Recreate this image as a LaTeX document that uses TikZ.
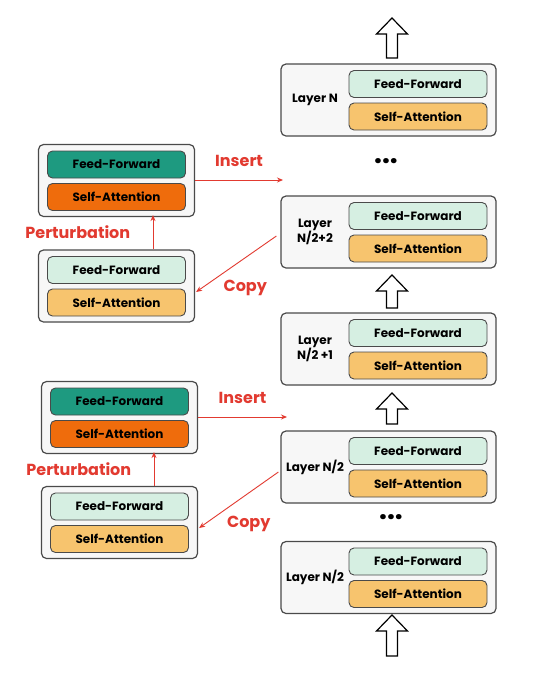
\documentclass[tikz,border=0pt]{standalone}
\usepackage{fontspec}
\setmainfont{Poppins}
\usetikzlibrary{positioning,arrows.meta}

\definecolor{ffpale}{HTML}{D6EFE2}
\definecolor{sapale}{HTML}{F7C46E}
\definecolor{ffdark}{HTML}{1E9A80}
\definecolor{sadark}{HTML}{EF6C0C}
\definecolor{boxbg}{HTML}{F7F7F7}
\definecolor{boxline}{HTML}{4A4A4A}
\definecolor{redline}{HTML}{E23A30}

% hollow block arrow: x, y of tip, y of base
\newcommand{\hollowup}[3]{
  \draw[hollow] (#1-5.5,#3) -- (#1-5.5,#2+16) -- (#1-15.5,#2+16) -- (#1,#2)
    -- (#1+15.5,#2+16) -- (#1+5.5,#2+16) -- (#1+5.5,#3) -- cycle;
}

\tikzset{
  layer/.style = {draw=boxline, fill=boxbg, line width=1.2pt, rounded corners=5pt,
    minimum width=215pt, minimum height=72pt, inner sep=0pt},
  block/.style = {draw=boxline, fill=boxbg, line width=1.2pt, rounded corners=5pt,
    minimum width=156pt, minimum height=72pt, inner sep=0pt},
  sub/.style = {draw=boxline, line width=0.9pt, rounded corners=5pt,
    minimum width=138pt, minimum height=27pt, inner sep=0pt,
    font=\fontsize{12}{13}\selectfont\bfseries},
  tag/.style = {font=\fontsize{12}{15}\selectfont\bfseries, align=center},
  hollow/.style = {draw=black, fill=white, line width=1.2pt, line join=miter},
  redarrow/.style = {draw=redline, line width=0.9pt, -{Stealth[length=6pt,width=5pt]}},
  redtext/.style = {text=redline, font=\fontsize{16}{18}\selectfont\bfseries},
  dots/.style = {font=\fontsize{28}{28}\selectfont\bfseries}
}

\begin{document}
\begin{tikzpicture}[x=1pt, y=-1pt]
  \useasboundingbox[fill=white] (0,0) rectangle (554,673);

  % right column: the stacked layers
  \node[layer] (lN)  at (388.5,100)   {};
  \node[layer] (l22) at (388.5,232)   {};
  \node[layer] (l21) at (388.5,349)   {};
  \node[layer] (l2b) at (388.5,467)   {};
  \node[layer] (l2a) at (388.5,577.5) {};

  \foreach \n/\t in {lN/{Layer N}, l22/{Layer\\N/2+2}, l21/{Layer\\N/2 +1}, l2b/{Layer N/2}, l2a/{Layer N/2}} {
    \node[sub, fill=ffpale] (\n ff) at ([xshift=29.5pt, yshift=16pt]\n.center) {Feed-Forward};
    \node[sub, fill=sapale] (\n sa) at ([xshift=29.5pt, yshift=-16.5pt]\n.center) {Self-Attention};
    \node[tag] (\n t) at ([xshift=-73.5pt]\n.center) {\t};
  }

  \node[dots] (d1) at (386,161) {...};
  \node[dots] (d2) at (391,517) {...};

  \hollowup{392}{18}{58}
  \hollowup{392}{275}{308}
  \hollowup{392}{393}{424}
  \hollowup{392}{615}{656}

  % left column: copied and perturbed layers
  \node[block] (p1) at (116.5,180.5) {};
  \node[block] (c1) at (116.5,286)   {};
  \node[block] (p2) at (119.5,417.5) {};
  \node[block] (c2) at (119.5,522.5) {};

  \foreach \n in {p1, p2} {
    \node[sub, fill=ffdark] (\n ff) at ([yshift=16pt]\n.center) {Feed-Forward};
    \node[sub, fill=sadark] (\n sa) at ([yshift=-16.5pt]\n.center) {Self-Attention};
  }
  \foreach \n in {c1, c2} {
    \node[sub, fill=ffpale] (\n ff) at ([yshift=16pt]\n.center) {Feed-Forward};
    \node[sub, fill=sapale] (\n sa) at ([yshift=-16.5pt]\n.center) {Self-Attention};
  }

  \coordinate (i1) at (283,180);
  \coordinate (i2) at (287,417);

  \draw[redarrow] (c1.north -| 153,0) -- ([yshift=2pt]p1.south -| 153,0)
    node[midway, left=19pt, redtext] {Perturbation};
  \draw[redarrow] (c2.north -| 154,0) -- ([yshift=2pt]p2.south -| 154,0)
    node[midway, left=19pt, redtext] {Perturbation};

  \draw[redarrow] (p1.east |- i1) -- (i1) node[midway, above=10pt, redtext] {Insert};
  \draw[redarrow] (p2.east |- i2) -- (i2) node[midway, above=10pt, redtext] {Insert};

  \draw[redarrow] ([xshift=-4pt, yshift=-4pt]l22.west) -- ([xshift=1pt, yshift=-6pt]c1.east)
    node[midway, below=12pt, xshift=9pt, redtext] {Copy};
  \draw[redarrow] ([xshift=-2pt, yshift=-5pt]l2b.west) -- ([xshift=1pt, yshift=-5.5pt]c2.east)
    node[midway, below=12pt, xshift=10pt, redtext] {Copy};
\end{tikzpicture}
\end{document}
